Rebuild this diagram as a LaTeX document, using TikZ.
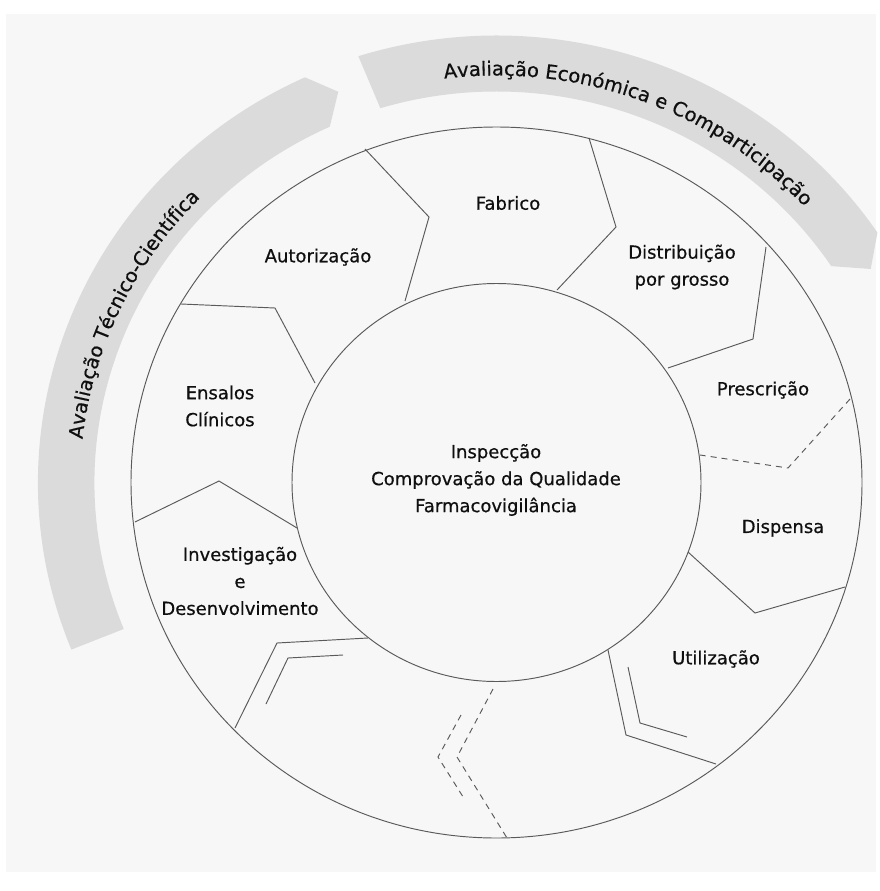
\documentclass[tikz,border=0pt]{standalone}
\usepackage{fontspec}
\setmainfont{DejaVu Sans}
\newfontfamily\lblfont[FakeBold=0.6]{DejaVu Sans}
\usetikzlibrary{decorations.text}
\definecolor{bandgray}{RGB}{219,219,219}
\definecolor{linegray}{RGB}{90,90,90}
\definecolor{paper}{RGB}{247,247,247}
\definecolor{inkc}{RGB}{15,15,15}
\newcommand{\bandfont}{\lblfont\fontsize{19.5}{20}\selectfont\color{inkc}}

\begin{document}
\begin{tikzpicture}[x=1pt,y=-1pt,
  sector/.style={draw=linegray, line width=0.95pt, line join=miter},
  brk/.style={sector, dash pattern=on 6pt off 5pt},
  lbl/.style={font=\lblfont\fontsize{18}{27}\selectfont, text=inkc, align=center, inner sep=0pt},
]
\useasboundingbox (0,0) rectangle (880,891);
\fill[white] (0,0) rectangle (880,891);
\fill[paper] (6,14) rectangle (876,872);

\coordinate (C) at (496.5,482.5);

% curved arrow bands with their captions
\begin{scope}[shift={(496.5,482.5)}]
  \fill[bandgray] (158:458.5 and 446)
    arc[start angle=158, end angle=245.3, x radius=458.5, y radius=446]
    -- (248.5:431.8 and 420) -- (245.5:402 and 391)
    arc[start angle=245.5, end angle=158, x radius=402, y radius=391] -- cycle;
  \fill[bandgray] (252.5:459.5 and 447)
    arc[start angle=252.5, end angle=326, x radius=459.5, y radius=447]
    -- (329.6:433.9 and 422) -- (326.4:401.9 and 391)
    arc[start angle=326.4, end angle=253.2, x radius=401.9, y radius=391] -- cycle;

  \path[decorate, decoration={text along path, text align=center,
      text={|\bandfont|Avaliação Técnico-Científica}}]
    (165:416.3 and 405) arc[start angle=165, end angle=245.4, x radius=416.3, y radius=405];
  \path[decorate, decoration={text along path, text align=center,
      text={|\bandfont|Avaliação Económica e Comparticipação}}]
    (250.2:418.4 and 407) arc[start angle=250.2, end angle=330.2, x radius=418.4, y radius=407];
\end{scope}

% rings
\draw[sector] (C) ellipse[x radius=365.5, y radius=355.5];
\draw[sector] (C) ellipse[x radius=204.5, y radius=199];

% sector borders
\draw[sector] (365,149) -- (429,217) -- (405,301);
\draw[sector] (589,138) -- (616,227) -- (557,290);
\draw[sector] (766,247) -- (753,339) -- (668,368);
\draw[brk]    (850,399) -- (788,468) -- (700,455);
\draw[sector] (688,552) -- (755,613) -- (845,587);
\draw[sector] (608,650) -- (626,735) -- (716,764);
\draw[sector] (628,667) -- (640,723) -- (687,737);
\draw[brk]    (493,689) -- (457,757) -- (507,838);
\draw[brk]    (461,715) -- (438,757) -- (465,800);
\draw[sector] (368,638) -- (277,643) -- (235,728);
\draw[sector] (343,655) -- (288,658) -- (266,704);
\draw[sector] (135,522) -- (219,481) -- (297,528);
\draw[sector] (181,304) -- (275,308) -- (315,383);

% labels
\node[lbl] (core)  at (496,480) {Inspecção\\Comprovação da Qualidade\\Farmacovigilância};
\node[lbl] (fab)   at (508,203) {Fabrico};
\node[lbl] (aut)   at (318,257) {Autorização};
\node[lbl] (dist)  at (682,267) {Distribuição\\por grosso};
\node[lbl] (presc) at (763,390) {Prescrição};
\node[lbl] (disp)  at (783,528) {Dispensa};
\node[lbl] (util)  at (716,659) {Utilização};
\node[lbl] (ens)   at (220,406) {Ensalos\\Clínicos};
\node[lbl] (inv)   at (240,581) {Investigação\\e\\Desenvolvimento};
\end{tikzpicture}
\end{document}
